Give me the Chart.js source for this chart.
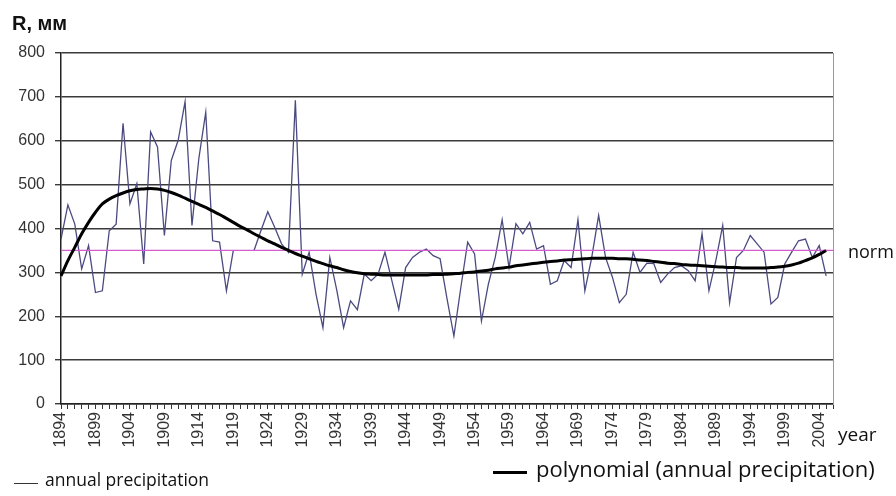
<!DOCTYPE html>
<html>
<head>
<meta charset="utf-8">
<script src="https://cdn.jsdelivr.net/npm/chart.js@4/dist/chart.umd.min.js"></script>
<style>
  html,body{margin:0;padding:0;background:#fff;}
  #wrap{position:relative;width:896px;height:496px;overflow:hidden;}
  canvas{position:absolute;left:0;top:0;}
  .t{position:absolute;white-space:nowrap;color:#111;font-family:"Open Sans",sans-serif;line-height:1;}
  .lg{position:absolute;height:0;border-top:1px solid #333;}
</style>
</head>
<body>
<div id="wrap">
  <canvas id="c" width="896" height="496"></canvas>
  <div class="t" style="left:12px;top:13px;font-family:'Liberation Sans',Arial,sans-serif;font-weight:bold;font-size:20px;">R, мм</div>
  <div class="t" style="left:848px;top:242px;font-size:18px;">norm</div>
  <div class="t" style="left:838px;top:425px;font-size:19px;">year</div>
  <div class="lg" style="left:14px;top:483px;width:24px;border-top:1px solid #333;"></div>
  <div class="t" style="left:45px;top:471px;font-size:17.5px;">annual precipitation</div>
  <div class="lg" style="left:493px;top:471px;width:34px;border-top:3px solid #000;"></div>
  <div class="t" style="left:536px;top:457px;font-size:22px;">polynomial (annual precipitation)</div>
</div>
<script>
const years = ["1894","1895","1896","1897","1898","1899","1900","1901","1902","1903","1904","1905","1906","1907","1908","1909","1910","1911","1912","1913","1914","1915","1916","1917","1918","1919","1920","1921","1922","1923","1924","1925","1926","1927","1928","1929","1930","1931","1932","1933","1934","1935","1936","1937","1938","1939","1940","1941","1942","1943","1944","1945","1946","1947","1948","1949","1950","1951","1952","1953","1954","1955","1956","1957","1958","1959","1960","1961","1962","1963","1964","1965","1966","1967","1968","1969","1970","1971","1972","1973","1974","1975","1976","1977","1978","1979","1980","1981","1982","1983","1984","1985","1986","1987","1988","1989","1990","1991","1992","1993","1994","1995","1996","1997","1998","1999","2000","2001","2002","2003","2004","2005","2006"];

const annualPrecipitation = [376,454,410,308,361,254,258,395,410,640,456,502,319,620,586,384,555,601,689,407,560,665,372,369,258,350,null,null,350,395,438,403,365,346,692,296,346,250,174,334,260,174,235,215,296,281,296,346,281,216,311,334,346,353,338,331,240,155,265,369,342,189,273,334,420,311,411,388,414,353,361,273,281,327,311,420,258,334,430,334,289,231,250,346,300,321,320,277,296,311,315,304,281,388,258,327,407,231,334,350,384,365,346,228,243,319,346,372,376,334,361,292];

const polynomialTrend = [292,327,357,388,414,437,456,467,475,481,486,489,490,491,490,487,482,476,469,462,455,448,440,432,423,414,405,397,388,380,372,365,357,350,343,337,331,325,320,315,311,306,302,299,297,296,295,294,294,294,294,294,294,294,295,295,296,297,298,300,301,303,305,308,310,312,315,317,319,321,323,325,326,328,329,330,331,332,332,332,332,331,331,330,328,327,325,323,321,320,318,317,316,315,314,313,312,311,311,310,310,310,310,311,312,314,317,321,327,333,341,350];

const normValue = 350;
const yTicks = [0,100,200,300,400,500,600,700,800];

const normData = [{x: years[0], y: normValue}, {x: years[years.length-1], y: normValue}];

const tickFont = {family: "'Liberation Sans', Arial, sans-serif", size: 16};

new Chart(document.getElementById('c'), {
  type: 'line',
  data: {
    labels: years,
    datasets: [
      {label:'polynomial (annual precipitation)', data: polynomialTrend, borderColor:'#000', borderWidth:3, pointRadius:0, tension:0.3, order:1},
      {label:'norm', data: normData, borderColor:'#d35ccf', borderWidth:1.3, pointRadius:0, order:2},
      {label:'annual precipitation', data: annualPrecipitation, borderColor:'#4a4a80', borderWidth:1.3, pointRadius:0, spanGaps:false, order:3}
    ]
  },
  options: {
    responsive:false,
    animation:false,
    devicePixelRatio:1,
    layout:{padding:{left:0, right:63, top:53, bottom:0}},
    plugins:{legend:{display:false}, tooltip:{enabled:false}},
    scales:{
      x:{
        type:'category',
        offset:false,
        afterFit:(s)=>{s.height = 92;},
        grid:{display:true, drawOnChartArea:false, drawTicks:true, tickLength:5, color:'#333', lineWidth:1},
        border:{display:true, color:'#222', width:1.5},
        ticks:{
          autoSkip:false, maxRotation:90, minRotation:90, padding:3, color:'#333', font:tickFont,
          callback:function(v, i){ const l = this.getLabelForValue(v); return ((parseInt(l)-1894)%5===0) ? l : ''; }
        }
      },
      y:{
        min:0, max:800,
        afterFit:(s)=>{s.width = 61;},
        afterBuildTicks:(s)=>{ s.ticks = yTicks.map(v=>({value:v})); },
        grid:{color:'#3a3a3a', lineWidth:1.4, tickLength:6},
        border:{display:true, color:'#222', width:1.5},
        ticks:{color:'#333', font:tickFont, padding:10}
      },
      y2:{
        position:'right', min:0, max:800,
        afterFit:(s)=>{s.width = 0;},
        grid:{drawOnChartArea:false, drawTicks:false},
        border:{display:true, color:'#999', width:1},
        ticks:{display:false}
      }
    }
  }
});
</script>
</body>
</html>
